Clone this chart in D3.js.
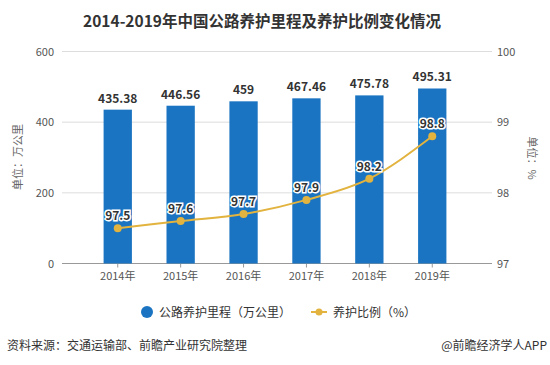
<!DOCTYPE html>
<html><head><meta charset="utf-8">
<script src="https://cdn.jsdelivr.net/npm/d3@7"></script>
<style>body{margin:0;background:#fff}svg{display:block;font-family:"Noto Sans CJK SC","Noto Sans",sans-serif}</style>
</head><body><svg id="c" width="550" height="365"></svg>
<script>
const categories = ["2014年","2015年","2016年","2017年","2018年","2019年"];
const mileage = [435.38, 446.56, 459, 467.46, 475.78, 495.31];
const mileageLabels = ["435.38","446.56","459","467.46","475.78","495.31"];
const ratio = [97.5, 97.6, 97.7, 97.9, 98.2, 98.8];
const leftTicks = [0, 200, 400, 600];
const rightTicks = [97, 98, 99, 100];

const svg = d3.select("#c");
const barColor = "#1a74c2", lineColor = "#e2b33e";
const x = d3.scaleBand().domain(categories).range([69, 481]).padding(0.55);
const yL = d3.scaleLinear().domain([0, 600]).range([263.5, 51.5]);
const yR = d3.scaleLinear().domain([97, 100]).range([263.5, 51.5]);

svg.append("text").attr("x", 262).attr("y", 27).attr("text-anchor", "middle")
  .attr("font-size", 15.5).attr("font-weight", "bold").attr("fill", "#333")
  .text("2014-2019年中国公路养护里程及养护比例变化情况");

// grid
svg.append("g").selectAll("line").data(leftTicks).join("line")
  .attr("x1", 62).attr("x2", 492).attr("y1", d => yL(d)).attr("y2", d => yL(d))
  .attr("stroke", d => d === 0 ? "#999" : "#ddd").attr("stroke-width", 1);

// axis tick labels
svg.append("g").selectAll("text").data(leftTicks).join("text")
  .attr("x", 54).attr("y", d => yL(d) + 4).attr("text-anchor", "end")
  .attr("font-size", 11).attr("fill", "#555").text(d => d);
svg.append("g").selectAll("text").data(rightTicks).join("text")
  .attr("x", 497).attr("y", d => yR(d) + 4).attr("text-anchor", "start")
  .attr("font-size", 11).attr("fill", "#555").text(d => d);

// x axis ticks
const xa = svg.append("g").attr("transform", "translate(0,263.5)")
  .call(d3.axisBottom(x).tickSize(4).tickSizeOuter(0));
xa.select(".domain").remove();
xa.selectAll("line").attr("stroke", "#999");
xa.selectAll("text").attr("font-size", 11).attr("fill", "#555").attr("dy", "0.9em")
  .attr("font-family", '"Noto Sans CJK SC",sans-serif');

// axis titles
svg.append("text").attr("transform", "translate(22,157) rotate(-90)").attr("text-anchor", "middle")
  .attr("font-size", 11).attr("fill", "#666").text("单位：万公里");
svg.append("text").attr("transform", "translate(528,158) rotate(90)").attr("text-anchor", "middle")
  .attr("font-size", 11).attr("fill", "#666").text("单位：%");

// bars
svg.append("g").selectAll("rect").data(mileage).join("rect")
  .attr("x", (d, i) => x(categories[i])).attr("width", x.bandwidth())
  .attr("y", d => yL(d)).attr("height", d => yL(0) - yL(d)).attr("fill", barColor);
svg.append("g").selectAll("text").data(mileage).join("text")
  .attr("x", (d, i) => x(categories[i]) + x.bandwidth() / 2).attr("y", d => yL(d) - 7)
  .attr("text-anchor", "middle").attr("font-size", 12).attr("font-weight", "bold").attr("fill", "#333")
  .text((d, i) => mileageLabels[i]);

// line
const cx = (d, i) => x(categories[i]) + x.bandwidth() / 2;
const line = d3.line().x(cx).y(d => yR(d)).curve(d3.curveMonotoneX);
svg.append("path").datum(ratio).attr("d", line).attr("fill", "none")
  .attr("stroke", lineColor).attr("stroke-width", 2);
svg.append("g").selectAll("circle").data(ratio).join("circle")
  .attr("cx", cx).attr("cy", d => yR(d)).attr("r", 4).attr("fill", lineColor);
svg.append("g").selectAll("text").data(ratio).join("text")
  .attr("x", cx).attr("y", d => yR(d) - 8).attr("text-anchor", "middle")
  .attr("font-size", 12).attr("font-weight", "bold").attr("fill", "#333")
  .attr("stroke", "#fff").attr("stroke-width", 3).attr("paint-order", "stroke")
  .text(d => d.toFixed(1));

// legend
const lg = svg.append("g");
lg.append("circle").attr("cx", 147).attr("cy", 312).attr("r", 6).attr("fill", barColor);
lg.append("text").attr("x", 159).attr("y", 316.5).attr("font-size", 12).attr("fill", "#333").text("公路养护里程（万公里）");
lg.append("line").attr("x1", 311).attr("x2", 327).attr("y1", 312).attr("y2", 312).attr("stroke", lineColor).attr("stroke-width", 2);
lg.append("circle").attr("cx", 319).attr("cy", 312).attr("r", 3.5).attr("fill", lineColor);
lg.append("text").attr("x", 333).attr("y", 316.5).attr("font-size", 12).attr("fill", "#333").text("养护比例（%）");

// footer
svg.append("text").attr("x", 7).attr("y", 350).attr("font-size", 12).attr("fill", "#333")
  .text("资料来源：交通运输部、前瞻产业研究院整理");
svg.append("text").attr("x", 547).attr("y", 350).attr("text-anchor", "end").attr("font-size", 12).attr("fill", "#333")
  .text("@前瞻经济学人APP");
</script></body></html>
